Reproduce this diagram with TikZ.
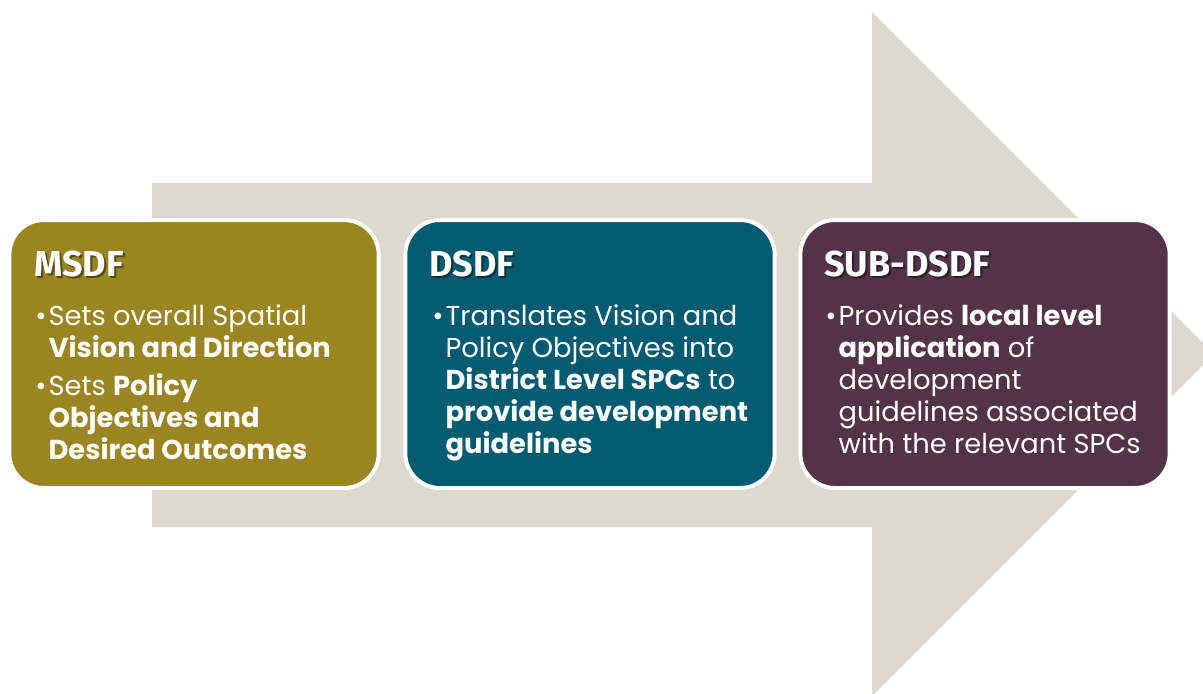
\documentclass[tikz,border=0pt]{standalone}
\usepackage{fontspec}
\usepackage{tikz}
\usepackage{xcolor}
\newfontfamily\titlefont{Fira Sans}
\newfontfamily\gothic{Poppins}
\newcommand\bulitem{\makebox[10pt][l]{\textbullet}}
\newcommand\bulind{\hspace*{10pt}}
\definecolor{arrowbg}{HTML}{DDD9CE}
\definecolor{msdfcol}{HTML}{998622}
\definecolor{dsdfcol}{HTML}{005A70}
\definecolor{subcol}{HTML}{533347}
\tikzset{
  box/.style={rectangle, rounded corners=26pt, minimum width=277pt, minimum height=201pt, draw=white, line width=3pt},
  ttl/.style={anchor=north west, inner sep=0.75pt, text=white, font=\titlefont\bfseries\fontsize{27}{32}\selectfont},
  ttlshadow/.style={ttl, text=black, text opacity=0.45},
  body/.style={anchor=north west, inner sep=0pt, text=white, align=left, font=\gothic\fontsize{20.5}{24}\selectfont}
}

\begin{document}
\begin{tikzpicture}[x=0.75pt,y=0.75pt,yscale=-1,xscale=1]
\useasboundingbox (0,0) rectangle (1203,693);

%Shapes: Big Arrow
\fill [arrowbg] (152,183) -- (872,183) -- (872,12) -- (1214,354) -- (872,696) -- (872,527) -- (152,527) -- cycle;

%Rounded Rect
\draw (194,354) node [box, fill=msdfcol] (msdf) {};
%Rounded Rect
\draw (590,354) node [box, fill=dsdfcol] (dsdf) {};
%Rounded Rect
\draw (985,354) node [box, fill=subcol] (subdsdf) {};

% Text Node
\draw (35,252) node [ttlshadow] (msdfs) {MSDF};
\draw (33,250) node [ttl] (msdft) {MSDF};
% Text Node
\draw (430,252) node [ttlshadow] (dsdfs) {DSDF};
\draw (428,250) node [ttl] (dsdft) {DSDF};
% Text Node
\draw (825,252) node [ttlshadow] (subdsdfs) {SUB-DSDF};
\draw (823,250) node [ttl] (subdsdft) {SUB-DSDF};

% Text Node
\draw (35,304) node [body] (msdfb) {\bulitem Sets overall Spatial\\
  \bulind\textbf{Vision and Direction}\\[5pt]
  \bulitem Sets \textbf{Policy}\\
  \bulind\textbf{Objectives and}\\
  \bulind\textbf{Desired Outcomes}};
% Text Node
\draw (432,304) node [body] (dsdfb) {\bulitem Translates Vision and\\
  \bulind Policy Objectives into\\
  \bulind\textbf{District Level SPCs} to\\
  \bulind\textbf{provide development}\\
  \bulind\textbf{guidelines}};
% Text Node
\draw (825,304) node [body] (subdsdfb) {\bulitem Provides \textbf{local level}\\
  \bulind\textbf{application} of\\
  \bulind development\\
  \bulind guidelines associated\\
  \bulind with the relevant SPCs};

\end{tikzpicture}
\end{document}
